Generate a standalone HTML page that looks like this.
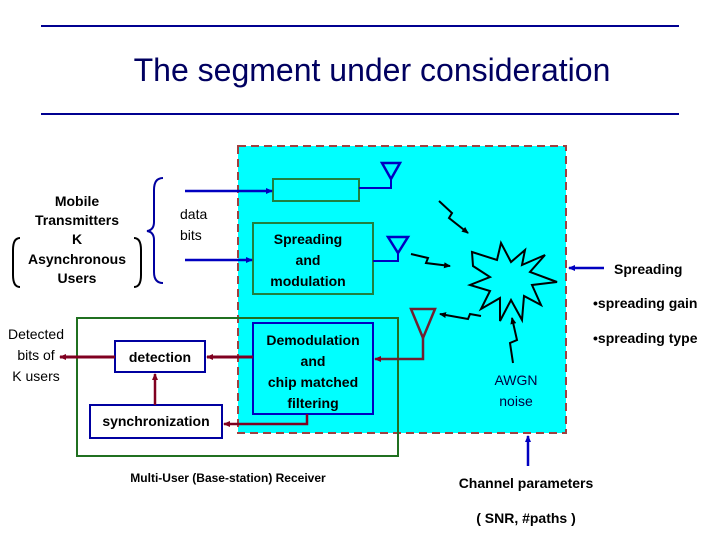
<!DOCTYPE html>
<html><head><meta charset="utf-8"><style>
body{margin:0;background:#fff}
svg{display:block;font-family:"Liberation Sans",Arial,sans-serif}
.b{font-weight:bold}
</style></head><body>
<svg width="720" height="540" viewBox="0 0 720 540">
<defs>
<marker id="ab" markerUnits="userSpaceOnUse" markerWidth="7" markerHeight="7" refX="6" refY="3.5" orient="auto"><path d="M0,0.5 L7,3.5 L0,6.5z" fill="#0000c0"/></marker>
<marker id="am" markerUnits="userSpaceOnUse" markerWidth="7" markerHeight="7" refX="6" refY="3.5" orient="auto"><path d="M0,0.5 L7,3.5 L0,6.5z" fill="#800020"/></marker>
<marker id="ak" markerUnits="userSpaceOnUse" markerWidth="7" markerHeight="7" refX="6" refY="3.5" orient="auto"><path d="M0,0.5 L7,3.5 L0,6.5z" fill="#000"/></marker>
</defs>
<line x1="41" y1="26" x2="679" y2="26" stroke="#000090" stroke-width="2"/>
<line x1="41" y1="114" x2="679" y2="114" stroke="#000090" stroke-width="2"/>
<text x="372" y="81" font-size="32" fill="#000060" text-anchor="middle">The segment under consideration</text>

<rect x="238" y="146" width="328" height="287" fill="#00ffff" stroke="#a04040" stroke-width="2" stroke-dasharray="8,5"/>
<rect x="77" y="318" width="321" height="138" fill="none" stroke="#207020" stroke-width="2"/>

<rect x="273" y="179" width="86" height="22" fill="none" stroke="#208040" stroke-width="2"/>
<rect x="253" y="223" width="120" height="71" fill="none" stroke="#208040" stroke-width="2"/>
<text class="b" font-size="14" text-anchor="middle" fill="#000"><tspan x="308" y="244">Spreading</tspan><tspan x="308" y="265">and</tspan><tspan x="308" y="286">modulation</tspan></text>
<rect x="253" y="323" width="120" height="91" fill="#00ffff" stroke="#0000c0" stroke-width="2"/>
<text class="b" font-size="14" text-anchor="middle"><tspan x="313" y="345">Demodulation</tspan><tspan x="313" y="366">and</tspan><tspan x="313" y="387">chip matched</tspan><tspan x="313" y="408">filtering</tspan></text>

<rect x="115" y="341" width="90" height="31" fill="#fff" stroke="#0000a0" stroke-width="2"/>
<text class="b" x="160" y="362" font-size="14" text-anchor="middle">detection</text>
<rect x="90" y="405" width="132" height="33" fill="#fff" stroke="#0000a0" stroke-width="2"/>
<text class="b" x="156" y="426" font-size="14" text-anchor="middle">synchronization</text>

<line x1="185" y1="191" x2="272" y2="191" stroke="#0000c0" stroke-width="2.5" marker-end="url(#ab)"/>
<line x1="185" y1="260" x2="252" y2="260" stroke="#0000c0" stroke-width="2.5" marker-end="url(#ab)"/>
<polyline points="359,188 391,188 391,180" fill="none" stroke="#0000c0" stroke-width="2"/>
<polygon points="382,163 400,163 391,179" fill="none" stroke="#0000c0" stroke-width="2.5"/>
<polyline points="373,261 398,261 398,253" fill="none" stroke="#0000c0" stroke-width="2"/>
<polygon points="388,237 408,237 398,253" fill="none" stroke="#0000c0" stroke-width="2.5"/>
<polygon points="411,309 435,309 423,338" fill="none" stroke="#702030" stroke-width="2.5"/>
<polyline points="423,338 423,359 375,359" fill="none" stroke="#702030" stroke-width="2.5" marker-end="url(#am)"/>
<line x1="253" y1="357" x2="207" y2="357" stroke="#800020" stroke-width="3" marker-end="url(#am)"/>
<line x1="115" y1="357" x2="60" y2="357" stroke="#800020" stroke-width="3" marker-end="url(#am)"/>
<line x1="155" y1="405" x2="155" y2="374" stroke="#800020" stroke-width="2.5" marker-end="url(#am)"/>
<polyline points="307,414 307,424 224,424" fill="none" stroke="#800020" stroke-width="2.5" marker-end="url(#am)"/>

<g fill="none" stroke="#000" stroke-width="2">
<polyline points="439,201 452,213 449,218 468,233" marker-end="url(#ak)"/>
<polyline points="411,254 428,258 426,263 450,266" marker-end="url(#ak)"/>
<polyline points="481,316 470,314 468,319 440,314" marker-end="url(#ak)"/>
<polyline points="513,363 510,343 517,340 512,318" marker-end="url(#ak)"/>
</g>
<polygon fill="none" stroke="#000" stroke-width="2" points="472,252 497,260 501,243 511,262 525,250 522,265 545,255 530,272 557,282 532,285 541,305 524,296 522,320 511,300 500,321 500,298 481,309 490,291 470,285 490,277 473,266"/>

<text x="516" y="385" font-size="14" text-anchor="middle" fill="#000040">AWGN</text>
<text x="516" y="406" font-size="14" text-anchor="middle" fill="#000040">noise</text>
<line x1="528" y1="466" x2="528" y2="436" stroke="#0000c0" stroke-width="2.5" marker-end="url(#ab)"/>
<line x1="604" y1="268" x2="569" y2="268" stroke="#0000c0" stroke-width="2.5" marker-end="url(#ab)"/>
<text class="b" x="614" y="274" font-size="14">Spreading</text>
<text class="b" x="593" y="308" font-size="14">•spreading gain</text>
<text class="b" x="593" y="343" font-size="14">•spreading type</text>
<text class="b" x="526" y="488" font-size="14" text-anchor="middle">Channel parameters</text>
<text class="b" x="526" y="523" font-size="14" text-anchor="middle">( SNR, #paths )</text>
<text class="b" x="228" y="482" font-size="12" text-anchor="middle">Multi-User (Base-station) Receiver</text>

<text class="b" font-size="14" text-anchor="middle"><tspan x="77" y="206">Mobile</tspan><tspan x="77" y="225">Transmitters</tspan><tspan x="77" y="244">K</tspan><tspan x="77" y="264">Asynchronous</tspan><tspan x="77" y="283">Users</tspan></text>
<path d="M20,238 Q13,238 13,250 L13,275 Q13,287 20,287" fill="none" stroke="#000" stroke-width="2"/>
<path d="M134,238 Q141,238 141,250 L141,275 Q141,287 134,287" fill="none" stroke="#000" stroke-width="2"/>
<path d="M163,178 Q154,178 154,190 L154,222 Q154,230 147,231 Q154,232 154,240 L154,272 Q154,283 163,283" fill="none" stroke="#0000a0" stroke-width="2"/>
<text x="180" y="219" font-size="14">data</text>
<text x="180" y="240" font-size="14">bits</text>
<text font-size="14" text-anchor="middle"><tspan x="36" y="339">Detected</tspan><tspan x="36" y="360">bits of</tspan><tspan x="36" y="381">K users</tspan></text>
</svg>
</body></html>
